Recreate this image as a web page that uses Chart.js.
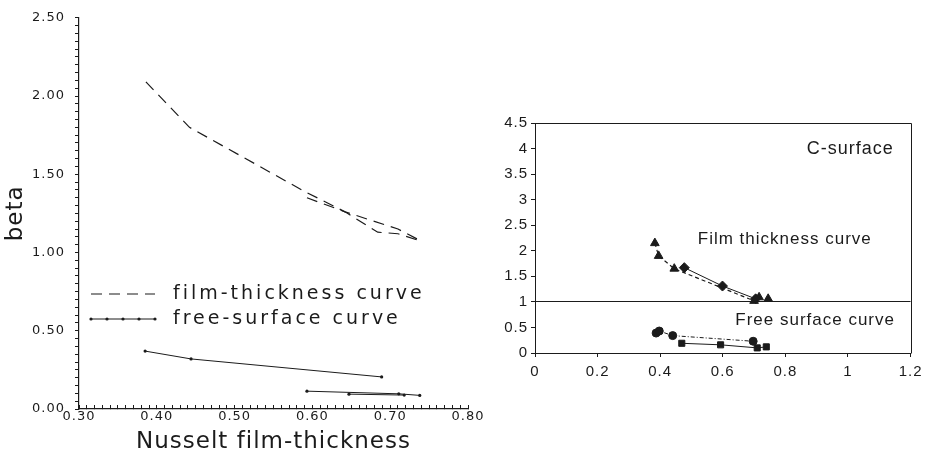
<!DOCTYPE html>
<html>
<head>
<meta charset="utf-8">
<title>beta versus Nusselt film-thickness</title>
<script src="https://cdn.jsdelivr.net/npm/chart.js@4/dist/chart.umd.min.js"></script>
<style>
  html, body { margin: 0; padding: 0; background: #ffffff; }
  #wrap { position: relative; width: 927px; height: 454px; overflow: hidden; }
  #left { position: absolute; left: 0; top: 0; width: 490px; height: 454px; }
  #right { position: absolute; left: 490px; top: 0; width: 437px; height: 454px; }
</style>
</head>
<body>
<div id="wrap">
  <canvas id="left" width="490" height="454"></canvas>
  <canvas id="right" width="437" height="454"></canvas>
</div>
<script>
// ---- Left panel: beta against Nusselt film-thickness ----
const filmUpperX = [0.386, 0.442, 0.590, 0.642, 0.710, 0.741];
const filmUpperY = [2.09, 1.80, 1.39, 1.26, 1.15, 1.07];
const filmLowerX = [0.593, 0.642, 0.684, 0.710, 0.741];
const filmLowerY = [1.35, 1.26, 1.13, 1.12, 1.07];
const freeUpperX = [0.385, 0.444, 0.689];
const freeUpperY = [0.37, 0.32, 0.205];
const freeLowerX = [0.593, 0.711, 0.738];
const freeLowerY = [0.114, 0.097, 0.087];
const freeInnerX = [0.647, 0.718];
const freeInnerY = [0.095, 0.089];
const nusseltTicks = [0.30, 0.40, 0.50, 0.60, 0.70, 0.80];
const betaTicks = [0.00, 0.50, 1.00, 1.50, 2.00, 2.50];
const leftKeyLabels = ['film-thickness curve', 'free-surface curve'];

// ---- Right panel: C-surface ----
const ftTriX = [0.383, 0.395, 0.445, 0.700];
const ftTriY = [2.15, 1.90, 1.65, 1.02];
const ftDiaX = [0.477, 0.599, 0.705];
const ftDiaY = [1.67, 1.31, 1.06];
const ftEndX = [0.716, 0.745];
const ftEndY = [1.09, 1.06];
const fsCircX = [0.387, 0.397, 0.440, 0.697];
const fsCircY = [0.39, 0.43, 0.34, 0.23];
const fsSqX = [0.469, 0.593, 0.710, 0.739];
const fsSqY = [0.19, 0.16, 0.10, 0.12];
const cTicksX = [0, 0.2, 0.4, 0.6, 0.8, 1, 1.2];
const cTicksY = [0, 0.5, 1, 1.5, 2, 2.5, 3, 3.5, 4, 4.5];
const cReference = 1;
const cLabels = ['C-surface', 'Film thickness curve', 'Free surface curve'];

const ink = '#1b1b1b';
const plotFont = '"DejaVu Sans", sans-serif';
const helv = '"Liberation Sans", Arial, sans-serif';

function pts(xs, ys) { return xs.map((x, i) => ({ x: x, y: ys[i] })); }
function isOn(list, v) { return list.some(t => Math.abs(t - v) < 1e-6); }

// letter spacing for all text of a chart
const spacing = {
  id: 'spacing',
  beforeDraw(chart, args, opts) { chart.ctx.letterSpacing = opts.value || '0px'; }
};

// key for the left panel, styled after its datasets
const curveKey = {
  id: 'curveKey',
  afterDraw(chart, args, opts) {
    const ctx = chart.ctx;
    ctx.save();
    ctx.letterSpacing = opts.spacing;
    ctx.font = opts.size + 'px ' + plotFont;
    ctx.fillStyle = ink;
    ctx.strokeStyle = ink;
    ctx.textBaseline = 'middle';
    ctx.textAlign = 'left';
    opts.items.forEach(item => {
      const ds = chart.data.datasets[item.dataset];
      ctx.lineWidth = ds.borderWidth;
      ctx.setLineDash(ds.borderDash || []);
      ctx.beginPath();
      ctx.moveTo(opts.x0, item.y);
      ctx.lineTo(opts.x1, item.y);
      ctx.stroke();
      ctx.setLineDash([]);
      if (ds.pointRadius > 0) {
        const n = 4;
        for (let i = 0; i <= n; i++) {
          ctx.beginPath();
          ctx.arc(opts.x0 + (opts.x1 - opts.x0) * i / n, item.y, ds.pointRadius, 0, Math.PI * 2);
          ctx.fill();
        }
      }
      ctx.fillText(item.text, opts.tx, item.y);
    });
    ctx.restore();
  }
};

// frame and captions for the right panel
const frame = {
  id: 'frame',
  afterDraw(chart) {
    const { ctx, chartArea: a } = chart;
    ctx.save();
    ctx.strokeStyle = ink;
    ctx.lineWidth = 1;
    ctx.beginPath();
    ctx.moveTo(Math.round(a.left) + 0.5, Math.round(a.top) + 0.5);
    ctx.lineTo(Math.round(a.right) + 0.5, Math.round(a.top) + 0.5);
    ctx.lineTo(Math.round(a.right) + 0.5, Math.round(a.bottom) + 0.5);
    ctx.stroke();
    ctx.restore();
  }
};
const notes = {
  id: 'notes',
  afterDraw(chart, args, opts) {
    const { ctx, scales } = chart;
    ctx.save();
    ctx.fillStyle = ink;
    ctx.textAlign = 'center';
    ctx.textBaseline = 'middle';
    opts.items.forEach(n => {
      ctx.font = n.size + 'px ' + helv;
      ctx.fillText(n.text, scales.x.getPixelForValue(n.x), scales.y.getPixelForValue(n.y));
    });
    ctx.restore();
  }
};

const dashStyle = { borderColor: ink, borderWidth: 1.2, borderDash: [11, 7], pointRadius: 0, fill: false, tension: 0 };
const solidDots = { borderColor: ink, borderWidth: 1, pointRadius: 1.6, pointBackgroundColor: ink, pointBorderWidth: 0, fill: false, tension: 0 };

new Chart(document.getElementById('left'), {
  type: 'line',
  data: {
    datasets: [
      Object.assign({ label: leftKeyLabels[0], data: pts(filmUpperX, filmUpperY) }, dashStyle),
      Object.assign({ label: leftKeyLabels[0], data: pts(filmLowerX, filmLowerY) }, dashStyle),
      Object.assign({ label: leftKeyLabels[1], data: pts(freeUpperX, freeUpperY) }, solidDots),
      Object.assign({ label: leftKeyLabels[1], data: pts(freeLowerX, freeLowerY) }, solidDots),
      Object.assign({ label: leftKeyLabels[1], data: pts(freeInnerX, freeInnerY) }, solidDots)
    ]
  },
  options: {
    responsive: false,
    animation: false,
    events: [],
    layout: { padding: { top: 16, right: 22, left: 0, bottom: 0 } },
    plugins: {
      legend: { display: false },
      tooltip: { enabled: false },
      spacing: { value: '1px' },
      curveKey: {
        x0: 91, x1: 155, tx: 173, size: 19, spacing: '3px',
        items: [
          { dataset: 0, text: leftKeyLabels[0], y: 294 },
          { dataset: 2, text: leftKeyLabels[1], y: 319 }
        ]
      }
    },
    scales: {
      x: {
        type: 'linear', position: 'bottom', min: 0.3, max: 0.8,
        afterFit: s => { s.height = 45; },
        border: { color: ink, width: 1.2 },
        grid: { drawOnChartArea: false, tickLength: -4, tickColor: ink, tickWidth: 1 },
        ticks: {
          stepSize: 0.01, autoSkip: false, maxRotation: 0, minRotation: 0, padding: 4,
          color: ink, font: { family: plotFont, size: 13 },
          callback: v => isOn(nusseltTicks, v) ? v.toFixed(2) : ''
        },
        title: {
          display: true, text: 'Nusselt film-thickness', color: ink,
          font: { family: plotFont, size: 23, lineHeight: 1 }, padding: { top: 0, bottom: 0 }
        }
      },
      y: {
        type: 'linear', position: 'left', min: 0, max: 2.5,
        afterFit: s => { s.width = 79; },
        border: { color: ink, width: 1.2 },
        grid: { drawOnChartArea: false, tickLength: 4, tickColor: ink, tickWidth: 1 },
        ticks: {
          stepSize: 0.05, autoSkip: false, padding: 10,
          color: ink, font: { family: plotFont, size: 13 },
          callback: v => isOn(betaTicks, v) ? v.toFixed(2) : ''
        },
        title: {
          display: true, text: 'beta', color: ink,
          font: { family: plotFont, size: 23, lineHeight: 1 }, padding: { top: 5, bottom: 0 }
        }
      }
    }
  },
  plugins: [spacing, curveKey]
});

const mark = { borderColor: ink, backgroundColor: ink, pointBackgroundColor: ink, pointBorderColor: ink, pointBorderWidth: 1, fill: false, tension: 0 };

new Chart(document.getElementById('right'), {
  type: 'line',
  data: {
    datasets: [
      Object.assign({ data: pts(ftTriX, ftTriY), borderWidth: 1.2, borderDash: [4, 3], pointStyle: 'triangle', pointRadius: 5 }, mark),
      Object.assign({ data: pts(ftDiaX, ftDiaY), borderWidth: 1, pointStyle: 'rectRot', pointRadius: 5 }, mark),
      Object.assign({ data: pts(ftEndX, ftEndY), showLine: false, pointStyle: 'triangle', pointRadius: 5 }, mark),
      Object.assign({ data: pts(fsCircX, fsCircY), borderWidth: 1, borderDash: [4, 2, 1, 2], pointStyle: 'circle', pointRadius: 4 }, mark),
      Object.assign({ data: pts(fsSqX, fsSqY), borderWidth: 1, pointStyle: 'rect', pointRadius: 4.3 }, mark)
    ]
  },
  options: {
    responsive: false,
    animation: false,
    events: [],
    layout: { padding: { top: 123, right: 15, left: 0, bottom: 0 } },
    plugins: {
      legend: { display: false },
      tooltip: { enabled: false },
      spacing: { value: '1px' },
      notes: {
        items: [
          { text: cLabels[0], x: 1.007, y: 4.0, size: 18 },
          { text: cLabels[1], x: 0.798, y: 2.22, size: 17 },
          { text: cLabels[2], x: 0.895, y: 0.64, size: 17 }
        ]
      }
    },
    scales: {
      x: {
        type: 'linear', position: 'bottom', min: 0, max: 1.2,
        afterFit: s => { s.height = 101; },
        border: { color: ink, width: 1 },
        grid: { drawOnChartArea: false, tickLength: 4, tickColor: ink },
        ticks: {
          stepSize: 0.2, autoSkip: false, maxRotation: 0, minRotation: 0, padding: 6,
          color: ink, font: { family: helv, size: 15 },
          callback: v => isOn(cTicksX, v) ? String(+v.toFixed(1)) : ''
        }
      },
      y: {
        type: 'linear', position: 'left', min: 0, max: 4.5,
        afterFit: s => { s.width = 45; },
        border: { color: ink, width: 1 },
        grid: {
          drawOnChartArea: true, tickLength: 4, tickColor: ink, lineWidth: 1,
          color: c => (c.tick && Math.abs(c.tick.value - cReference) < 1e-6) ? ink : 'rgba(0,0,0,0)'
        },
        ticks: {
          stepSize: 0.5, autoSkip: false, padding: 3,
          color: ink, font: { family: helv, size: 15 },
          callback: v => isOn(cTicksY, v) ? String(+v.toFixed(1)) : ''
        }
      }
    }
  },
  plugins: [spacing, frame, notes]
});
</script>
</body>
</html>
